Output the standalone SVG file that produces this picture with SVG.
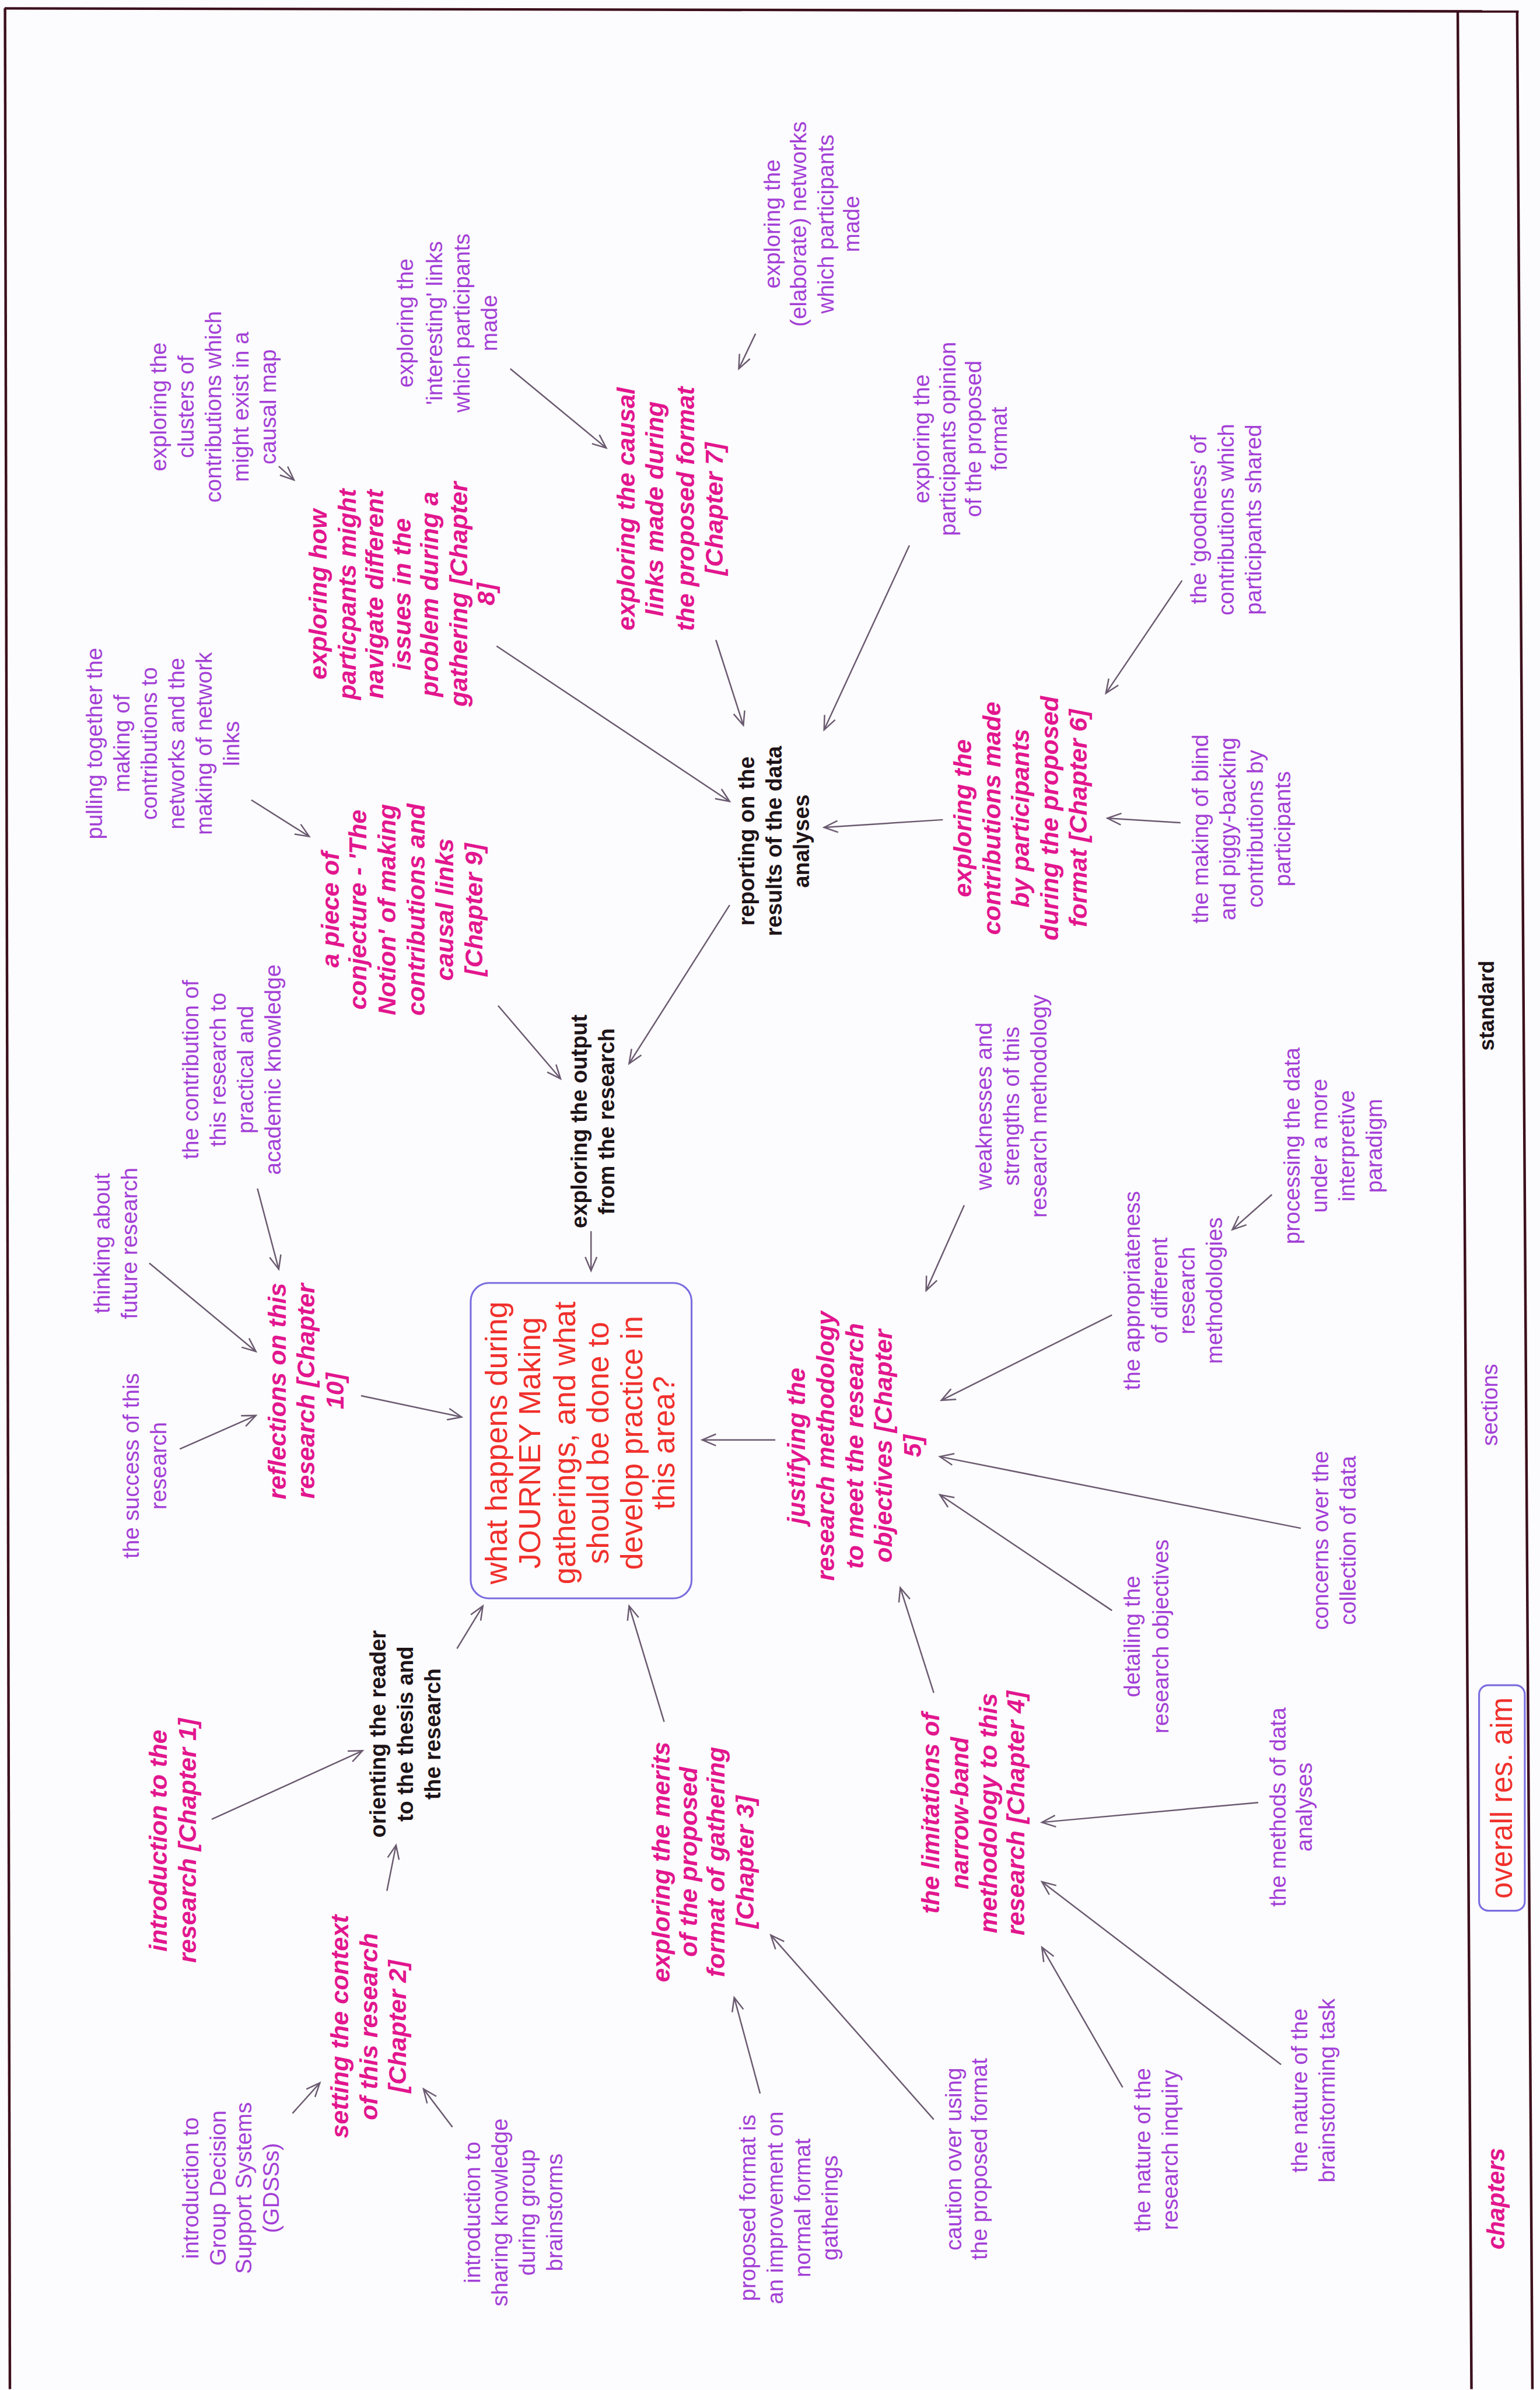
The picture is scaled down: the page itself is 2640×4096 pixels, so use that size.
<svg xmlns="http://www.w3.org/2000/svg" width="2640" height="4096" viewBox="0 0 2640 4096">
<style>
  text{font-family:"Liberation Sans",Arial,sans-serif;text-anchor:middle}
  .lbl{font-size:14.8px;fill:#a33fd6}
  .ch{font-size:16.5px;font-weight:bold;font-style:italic;fill:#e2168e}
  .sec{font-size:14.5px;font-weight:bold;fill:#1e1418}
  .aim{font-size:20px;fill:#f0302c}
  .std{font-size:14px;font-weight:bold;fill:#1e1418}
  .secl{font-size:14.7px;fill:#a33fd6}
  .chl{font-size:16px;font-weight:bold;font-style:italic;fill:#e2168e}
  .aiml{font-size:19.5px;fill:#f0302c}
  .box{fill:none;stroke:#7a6ee0;stroke-width:1.2}
  .frame{fill:none;stroke:#3c0f1c;stroke-width:1.7}
  .edge{stroke:#6a5a70;stroke-width:0.95;fill:none;marker-end:url(#ah)}
</style>
<defs>
  <marker id="ah" markerUnits="userSpaceOnUse" markerWidth="20" markerHeight="20" refX="0" refY="0" orient="auto" overflow="visible">
    <path d="M-9,-3.8 L0,0 L-9,3.8" fill="none" stroke="#6a5a70" stroke-width="0.95"/>
  </marker>
</defs>
<rect x="0" y="0" width="2640" height="4096" fill="#fcfbfd"/>
<g transform="scale(2.6113)">
  <!-- page frame and legend strip -->
  <g id="frame">
    <line class="frame" x1="3" y1="5.5" x2="997" y2="7.5"/>
    <line class="frame" x1="3.3" y1="5.5" x2="6.5" y2="1568"/>
    <line class="frame" x1="957" y1="7" x2="966" y2="1568"/>
    <line class="frame" x1="996" y1="7.5" x2="1006" y2="1568"/>
  </g>

  <!-- connectors -->
  <g id="connectors">
    <line class="edge" x1="183" y1="306" x2="193" y2="315"/>
    <line class="edge" x1="335" y1="242" x2="398" y2="294"/>
    <line class="edge" x1="496" y1="219" x2="485" y2="242"/>
    <line class="edge" x1="597" y1="358" x2="541" y2="479"/>
    <line class="edge" x1="776" y1="381" x2="726" y2="455"/>
    <line class="edge" x1="775" y1="540" x2="727" y2="537"/>
    <line class="edge" x1="619" y1="538" x2="541" y2="543"/>
    <line class="edge" x1="470" y1="420" x2="488" y2="476"/>
    <line class="edge" x1="326" y1="424" x2="479" y2="526"/>
    <line class="edge" x1="479" y1="594" x2="413" y2="698"/>
    <line class="edge" x1="165" y1="525" x2="203" y2="549"/>
    <line class="edge" x1="327" y1="660" x2="368" y2="708"/>
    <line class="edge" x1="388" y1="808" x2="388" y2="834"/>
    <line class="edge" x1="169" y1="780" x2="183" y2="833"/>
    <line class="edge" x1="98" y1="829" x2="168" y2="887"/>
    <line class="edge" x1="118" y1="951" x2="168" y2="929"/>
    <line class="edge" x1="237" y1="916" x2="303" y2="930"/>
    <line class="edge" x1="300" y1="1082" x2="317" y2="1054"/>
    <line class="edge" x1="139" y1="1194" x2="238" y2="1149"/>
    <line class="edge" x1="254" y1="1241" x2="260" y2="1211"/>
    <line class="edge" x1="192" y1="1387" x2="210" y2="1367"/>
    <line class="edge" x1="297" y1="1396" x2="278" y2="1371"/>
    <line class="edge" x1="436" y1="1130" x2="413" y2="1054"/>
    <line class="edge" x1="499" y1="1374" x2="482" y2="1311"/>
    <line class="edge" x1="613" y1="1391" x2="506" y2="1270"/>
    <line class="edge" x1="509" y1="945" x2="461" y2="945"/>
    <line class="edge" x1="633" y1="791" x2="608" y2="847"/>
    <line class="edge" x1="730" y1="863" x2="618" y2="919"/>
    <line class="edge" x1="854" y1="1003" x2="617" y2="956"/>
    <line class="edge" x1="730" y1="1057" x2="617" y2="981"/>
    <line class="edge" x1="613" y1="1111" x2="591" y2="1042"/>
    <line class="edge" x1="826" y1="1183" x2="684" y2="1196"/>
    <line class="edge" x1="841" y1="1355" x2="684" y2="1235"/>
    <line class="edge" x1="737" y1="1370" x2="684" y2="1278"/>
    <line class="edge" x1="835" y1="784" x2="809" y2="807"/>
  </g>

  <!-- nodes, laid out in the turned reading frame -->
  <g transform="translate(0,1568) rotate(-90)">
    <g id="aim-main">
      <rect class="box" x="519" y="309" width="207" height="145" rx="12"/>
      <text class="aim"><tspan x="621" y="332.6">what happens during</tspan><tspan x="621" y="354.6">JOURNEY Making</tspan><tspan x="621" y="377.6">gatherings, and what</tspan><tspan x="621" y="399.6">should be done to</tspan><tspan x="621" y="421.6">develop practice in</tspan><tspan x="621" y="442.6">this area?</tspan></text>
    </g>

    <g id="ch1"><text class="ch"><tspan x="360" y="109.6">introduction to the</tspan><tspan x="360" y="128.6">research [Chapter 1]</tspan></text></g>
    <g id="ch2"><text class="ch"><tspan x="238" y="228.6">setting the context</tspan><tspan x="238" y="247.6">of this research</tspan><tspan x="238" y="266.6">[Chapter 2]</tspan></text></g>
    <g id="ch3"><text class="ch"><tspan x="346" y="439.6">exploring the merits</tspan><tspan x="346" y="457.6">of the proposed</tspan><tspan x="346" y="475.6">format of gathering</tspan><tspan x="346" y="494.6">[Chapter 3]</tspan></text></g>
    <g id="ch4"><text class="ch"><tspan x="378" y="616.6">the limitations of</tspan><tspan x="378" y="635.6">narrow-band</tspan><tspan x="378" y="654.6">methodology to this</tspan><tspan x="378" y="672.6">research [Chapter 4]</tspan></text></g>
    <g id="ch5"><text class="ch"><tspan x="619" y="528.6">justifying the</tspan><tspan x="619" y="547.6">research methodology</tspan><tspan x="619" y="566.6">to meet the research</tspan><tspan x="619" y="585.6">objectives [Chapter</tspan><tspan x="619" y="604.6">5]</tspan></text></g>
    <g id="ch6"><text class="ch"><tspan x="1031" y="637.6">exploring the</tspan><tspan x="1031" y="656.6">contributions made</tspan><tspan x="1031" y="675.6">by participants</tspan><tspan x="1031" y="694.6">during the proposed</tspan><tspan x="1031" y="713.6">format [Chapter 6]</tspan></text></g>
    <g id="ch7"><text class="ch"><tspan x="1234" y="416.6">exploring the causal</tspan><tspan x="1234" y="435.6">links made during</tspan><tspan x="1234" y="455.6">the proposed format</tspan><tspan x="1234" y="474.6">[Chapter 7]</tspan></text></g>
    <g id="ch8"><text class="ch"><tspan x="1178" y="214.6">exploring how</tspan><tspan x="1178" y="233.6">particpants might</tspan><tspan x="1178" y="251.6">navigate different</tspan><tspan x="1178" y="269.6">issues in the</tspan><tspan x="1178" y="287.6">problem during a</tspan><tspan x="1178" y="306.6">gathering [Chapter</tspan><tspan x="1178" y="324.6">8]</tspan></text></g>
    <g id="ch9"><text class="ch"><tspan x="971" y="222.6">a piece of</tspan><tspan x="971" y="240.6">conjecture - 'The</tspan><tspan x="971" y="259.6">Notion' of making</tspan><tspan x="971" y="278.6">contributions and</tspan><tspan x="971" y="297.6">causal links</tspan><tspan x="971" y="316.6">[Chapter 9]</tspan></text></g>
    <g id="ch10"><text class="ch"><tspan x="655" y="187.6">reflections on this</tspan><tspan x="655" y="206.6">research [Chapter</tspan><tspan x="655" y="225.6">10]</tspan></text></g>

    <g id="sec-orienting"><text class="sec"><tspan x="430" y="253.1">orienting the reader</tspan><tspan x="430" y="271.1">to the thesis and</tspan><tspan x="430" y="289.1">the research</tspan></text></g>
    <g id="sec-reporting"><text class="sec"><tspan x="1016" y="495.1">reporting on the</tspan><tspan x="1016" y="513.1">results of the data</tspan><tspan x="1016" y="531.1">analyses</tspan></text></g>
    <g id="sec-output"><text class="sec"><tspan x="832" y="385.1">exploring the output</tspan><tspan x="832" y="403.1">from the research</tspan></text></g>

    <g id="clusters"><text class="lbl"><tspan x="1301" y="109.1">exploring the</tspan><tspan x="1301" y="127.1">clusters of</tspan><tspan x="1301" y="145.1">contributions which</tspan><tspan x="1301" y="163.1">might exist in a</tspan><tspan x="1301" y="181.1">causal map</tspan></text></g>
    <g id="interesting"><text class="lbl"><tspan x="1356" y="271.1">exploring the</tspan><tspan x="1356" y="290.1">'interesting' links</tspan><tspan x="1356" y="308.1">which participants</tspan><tspan x="1356" y="326.1">made</tspan></text></g>
    <g id="elaborate"><text class="lbl"><tspan x="1421" y="512.1">exploring the</tspan><tspan x="1421" y="529.1">(elaborate) networks</tspan><tspan x="1421" y="547.1">which participants</tspan><tspan x="1421" y="564.1">made</tspan></text></g>
    <g id="opinion"><text class="lbl"><tspan x="1280" y="610.1">exploring the</tspan><tspan x="1280" y="627.1">participants opinion</tspan><tspan x="1280" y="644.1">of the proposed</tspan><tspan x="1280" y="661.1">format</tspan></text></g>
    <g id="goodness"><text class="lbl"><tspan x="1227" y="792.1">the 'goodness' of</tspan><tspan x="1227" y="810.1">contributions which</tspan><tspan x="1227" y="828.1">participants shared</tspan></text></g>
    <g id="blind"><text class="lbl"><tspan x="1024" y="793.1">the making of blind</tspan><tspan x="1024" y="811.1">and piggy-backing</tspan><tspan x="1024" y="829.1">contributions by</tspan><tspan x="1024" y="847.1">participants</tspan></text></g>
    <g id="pulling"><text class="lbl"><tspan x="1080" y="67.1">pulling together the</tspan><tspan x="1080" y="85.1">making of</tspan><tspan x="1080" y="103.1">contributions to</tspan><tspan x="1080" y="121.1">networks and the</tspan><tspan x="1080" y="139.1">making of network</tspan><tspan x="1080" y="157.1">links</tspan></text></g>
    <g id="contribution"><text class="lbl"><tspan x="866" y="130.1">the contribution of</tspan><tspan x="866" y="148.1">this research to</tspan><tspan x="866" y="166.1">practical and</tspan><tspan x="866" y="184.1">academic knowledge</tspan></text></g>
    <g id="thinking"><text class="lbl"><tspan x="752" y="72.1">thinking about</tspan><tspan x="752" y="90.1">future research</tspan></text></g>
    <g id="success"><text class="lbl"><tspan x="606" y="91.1">the success of this</tspan><tspan x="606" y="109.1">research</tspan></text></g>
    <g id="gdss"><text class="lbl"><tspan x="132" y="130.1">introduction to</tspan><tspan x="132" y="148.1">Group Decision</tspan><tspan x="132" y="165.1">Support Systems</tspan><tspan x="132" y="183.1">(GDSSs)</tspan></text></g>
    <g id="sharing"><text class="lbl"><tspan x="116" y="315.1">introduction to</tspan><tspan x="116" y="333.1">sharing knowledge</tspan><tspan x="116" y="351.1">during group</tspan><tspan x="116" y="369.1">brainstorms</tspan></text></g>
    <g id="proposed"><text class="lbl"><tspan x="119" y="496.1">proposed format is</tspan><tspan x="119" y="514.1">an improvement on</tspan><tspan x="119" y="532.1">normal format</tspan><tspan x="119" y="550.1">gatherings</tspan></text></g>
    <g id="caution"><text class="lbl"><tspan x="151" y="631.1">caution over using</tspan><tspan x="151" y="648.1">the proposed format</tspan></text></g>
    <g id="inquiry"><text class="lbl"><tspan x="157" y="755.1">the nature of the</tspan><tspan x="157" y="773.1">research inquiry</tspan></text></g>
    <g id="brainstorming"><text class="lbl"><tspan x="196" y="858.1">the nature of the</tspan><tspan x="196" y="876.1">brainstorming task</tspan></text></g>
    <g id="methods"><text class="lbl"><tspan x="382" y="844.1">the methods of data</tspan><tspan x="382" y="861.1">analyses</tspan></text></g>
    <g id="detailing"><text class="lbl"><tspan x="494" y="748.1">detailing the</tspan><tspan x="494" y="767.1">research objectives</tspan></text></g>
    <g id="concerns"><text class="lbl"><tspan x="557" y="872.1">concerns over the</tspan><tspan x="557" y="890.1">collection of data</tspan></text></g>
    <g id="appropriateness"><text class="lbl"><tspan x="721" y="748.1">the appropriateness</tspan><tspan x="721" y="766.1">of different</tspan><tspan x="721" y="784.1">research</tspan><tspan x="721" y="802.1">methodologies</tspan></text></g>
    <g id="processing"><text class="lbl"><tspan x="816" y="853.1">processing the data</tspan><tspan x="816" y="871.1">under a more</tspan><tspan x="816" y="889.1">interpretive</tspan><tspan x="816" y="907.1">paradigm</tspan></text></g>
    <g id="weaknesses"><text class="lbl"><tspan x="842" y="651.1">weaknesses and</tspan><tspan x="842" y="669.1">strengths of this</tspan><tspan x="842" y="687.1">research methodology</tspan></text></g>

    <!-- legend strip -->
    <g id="legend-standard"><text class="std" x="908" y="980.9">standard</text></g>
    <g id="legend-sections"><text class="secl" x="646" y="983.1">sections</text></g>
    <g id="legend-aim">
      <rect class="box" x="314" y="971" width="148" height="30" rx="6"/>
      <text class="aiml" x="388" y="992.5">overall res. aim</text>
    </g>
    <g id="legend-chapters"><text class="chl" x="125" y="987.5">chapters</text></g>
  </g>
</g>
</svg>
